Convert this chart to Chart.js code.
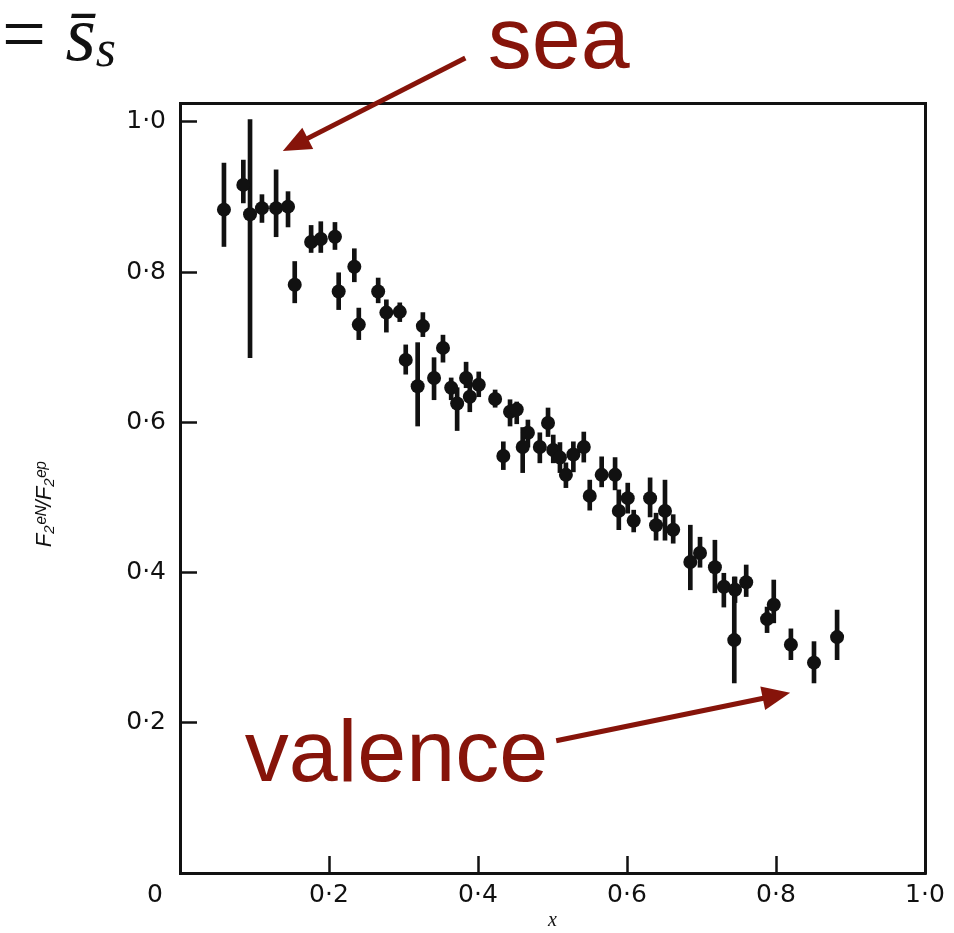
<!DOCTYPE html>
<html>
<head>
<meta charset="utf-8">
<script src="https://cdn.jsdelivr.net/npm/chart.js@4.4.1/dist/chart.umd.min.js"></script>
<style>
  html, body { margin: 0; padding: 0; background: #fff; }
  #wrap { position: relative; width: 954px; height: 933px; overflow: hidden; }
  #eq { position: absolute; left: 2px; top: -5px; font: 78px/78px "Liberation Serif", serif; color: #111; white-space: nowrap; }
  #eq sub { font-size: 52px; vertical-align: -0.12em; }
</style>
</head>
<body>
<div id="wrap">
  <canvas id="ratio" width="954" height="933"></canvas>
  <div id="eq">= <i>s&#x0304;</i><sub><i>s</i></sub></div>
</div>
<script>
// F2 neutron / proton ratio against x
var xVals = [0.059, 0.085, 0.094, 0.110, 0.129, 0.145, 0.154, 0.176, 0.189, 0.208,
             0.213, 0.234, 0.240, 0.266, 0.277, 0.295, 0.326, 0.303, 0.353, 0.319,
             0.341, 0.364, 0.372, 0.384, 0.389, 0.401, 0.423, 0.443, 0.452, 0.434,
             0.460, 0.467, 0.483, 0.494, 0.501, 0.510, 0.518, 0.528, 0.542, 0.550,
             0.566, 0.584, 0.589, 0.601, 0.609, 0.631, 0.639, 0.651, 0.662, 0.685,
             0.698, 0.718, 0.730, 0.745, 0.744, 0.760, 0.788, 0.797, 0.820, 0.851,
             0.882];
var yVals = [0.883, 0.916, 0.877, 0.885, 0.885, 0.887, 0.783, 0.840, 0.844, 0.847,
             0.774, 0.807, 0.730, 0.774, 0.746, 0.747, 0.728, 0.683, 0.699, 0.648,
             0.659, 0.646, 0.625, 0.659, 0.634, 0.650, 0.631, 0.614, 0.617, 0.555,
             0.567, 0.586, 0.567, 0.599, 0.563, 0.553, 0.530, 0.557, 0.567, 0.502,
             0.530, 0.530, 0.482, 0.499, 0.469, 0.499, 0.463, 0.482, 0.457, 0.414,
             0.426, 0.407, 0.381, 0.377, 0.310, 0.387, 0.338, 0.357, 0.304, 0.280,
             0.314];
var yHigh = [0.945, 0.949, 1.003, 0.903, 0.936, 0.907, 0.814, 0.862, 0.867, 0.866,
             0.799, 0.831, 0.752, 0.792, 0.763, 0.759, 0.746, 0.703, 0.716, 0.706,
             0.686, 0.659, 0.646, 0.680, 0.656, 0.667, 0.643, 0.630, 0.627, 0.574,
             0.593, 0.603, 0.586, 0.619, 0.583, 0.573, 0.546, 0.574, 0.587, 0.523,
             0.554, 0.553, 0.510, 0.519, 0.483, 0.526, 0.479, 0.523, 0.477, 0.463,
             0.447, 0.443, 0.399, 0.394, 0.394, 0.410, 0.354, 0.390, 0.325, 0.308,
             0.350];
var yLow  = [0.834, 0.892, 0.686, 0.866, 0.847, 0.860, 0.759, 0.826, 0.826, 0.830,
             0.750, 0.787, 0.710, 0.759, 0.720, 0.734, 0.714, 0.664, 0.680, 0.595,
             0.630, 0.630, 0.589, 0.646, 0.614, 0.634, 0.620, 0.595, 0.598, 0.537,
             0.533, 0.567, 0.546, 0.581, 0.546, 0.533, 0.513, 0.534, 0.547, 0.483,
             0.514, 0.510, 0.457, 0.479, 0.454, 0.474, 0.443, 0.443, 0.439, 0.377,
             0.407, 0.373, 0.354, 0.360, 0.253, 0.368, 0.320, 0.333, 0.284, 0.253,
             0.284];
var xTicks = [0, 0.2, 0.4, 0.6, 0.8, 1.0];
var yTicks = [0.2, 0.4, 0.6, 0.8, 1.0];

var ink = '#111';
var red = '#86140a';

Chart.defaults.font.family = '"DejaVu Sans", sans-serif';
Chart.defaults.color = ink;

function dotLabel(v) {
  return v.toFixed(1).replace('.', '\u00b7');
}

var points = xVals.map(function (x, i) { return {x: x, y: yVals[i]}; });
var errorBars = xVals.map(function (x, i) { return {x: x, y: [yLow[i], yHigh[i]]}; });

// red labels with arrows, placed in data space
var arrowNotes = {
  id: 'arrowNotes',
  afterDraw: function (chart, args, opts) {
    var ctx = chart.ctx;
    var xs = chart.scales.x, ys = chart.scales.y;
    ctx.save();
    ctx.fillStyle = opts.color;
    ctx.strokeStyle = opts.color;
    ctx.font = opts.font;
    ctx.textBaseline = 'alphabetic';
    opts.notes.forEach(function (n) {
      ctx.fillText(n.text, xs.getPixelForValue(n.at[0]), ys.getPixelForValue(n.at[1]));
      var x0 = xs.getPixelForValue(n.from[0]), y0 = ys.getPixelForValue(n.from[1]);
      var x1 = xs.getPixelForValue(n.to[0]), y1 = ys.getPixelForValue(n.to[1]);
      var a = Math.atan2(y1 - y0, x1 - x0);
      var head = 28, half = 12;
      ctx.lineWidth = 5;
      ctx.beginPath();
      ctx.moveTo(x0, y0);
      ctx.lineTo(x1 - Math.cos(a) * head * 0.8, y1 - Math.sin(a) * head * 0.8);
      ctx.stroke();
      ctx.beginPath();
      ctx.moveTo(x1, y1);
      ctx.lineTo(x1 - Math.cos(a) * head - Math.sin(a) * half, y1 - Math.sin(a) * head + Math.cos(a) * half);
      ctx.lineTo(x1 - Math.cos(a) * head + Math.sin(a) * half, y1 - Math.sin(a) * head - Math.cos(a) * half);
      ctx.closePath();
      ctx.fill();
    });
    ctx.restore();
  }
};

function frameAxis(position, size) {
  return {
    type: 'linear',
    position: position,
    min: 0,
    max: 1,
    afterFit: function (s) {
      if (s.isHorizontal()) s.height = size; else s.width = size;
    },
    border: { display: true, color: ink, width: 3 },
    grid: { drawOnChartArea: false, drawTicks: false },
    ticks: { display: false }
  };
}

var chart = new Chart(document.getElementById('ratio'), {
  type: 'scatter',
  data: {
    datasets: [
      {
        type: 'scatter',
        data: points,
        pointRadius: 7,
        pointHoverRadius: 7,
        backgroundColor: ink,
        borderWidth: 0,
        order: 1
      },
      {
        type: 'bar',
        data: errorBars,
        backgroundColor: ink,
        barThickness: 4,
        order: 2
      }
    ]
  },
  options: {
    responsive: false,
    animation: false,
    layout: { padding: 0 },
    plugins: {
      legend: { display: false },
      tooltip: { enabled: false },
      arrowNotes: {
        color: red,
        font: '88px "Liberation Sans", Arial, sans-serif',
        notes: [
          { text: 'sea', at: [0.413, 1.072], from: [0.383, 1.085], to: [0.138, 0.961] },
          { text: 'valence', at: [0.087, 0.1225], from: [0.505, 0.176], to: [0.819, 0.240] }
        ]
      }
    },
    scales: {
      x: {
        type: 'linear',
        position: 'bottom',
        min: 0,
        max: 1,
        offset: false,
        afterFit: function (s) {
          s.height = 60;
          // end labels may hang past the frame
          s.paddingLeft = 0;
          s.paddingRight = 0;
        },
        afterBuildTicks: function (s) {
          s.ticks = xTicks.map(function (v) { return {value: v}; });
        },
        border: { display: true, color: ink, width: 3 },
        grid: { drawOnChartArea: false, offset: false, tickLength: -17, tickWidth: 2.5, tickColor: ink },
        ticks: {
          padding: 24,
          font: { size: 25 },
          callback: function (v) {
            // pad the zero so it sits left of the corner
            return v === 0 ? '0\u2003\u2003' : dotLabel(v);
          }
        },
        title: {
          display: true,
          text: 'x',
          font: { family: '"Liberation Serif", serif', style: 'italic', size: 20 },
          padding: { top: 0, bottom: 0 }
        }
      },
      y: {
        type: 'linear',
        position: 'left',
        min: 0,
        max: 1.025,
        afterFit: function (s) {
          s.width = 180;
          s.paddingTop = 0;
          s.paddingBottom = 0;
        },
        afterBuildTicks: function (s) {
          s.ticks = yTicks.map(function (v) { return {value: v}; });
        },
        border: { display: true, color: ink, width: 3 },
        grid: { drawOnChartArea: false, offset: false, tickLength: -17, tickWidth: 2.5, tickColor: ink },
        ticks: {
          padding: 31,
          font: { size: 25 },
          callback: function (v) { return dotLabel(v); }
        },
        title: {
          display: true,
          // trailing spaces nudge the rotated title down a little
          text: 'F\u2082\u1d49\u1d3a/F\u2082\u1d49\u1d56\u2003\u2002',
          font: { family: '"Liberation Sans", Arial, sans-serif', style: 'italic', size: 22 },
          padding: { top: 32, bottom: 0 }
        }
      },
      xTop: frameAxis('top', 103),
      yRight: frameAxis('right', 29)
    }
  },
  plugins: [arrowNotes]
});
</script>
</body>
</html>
